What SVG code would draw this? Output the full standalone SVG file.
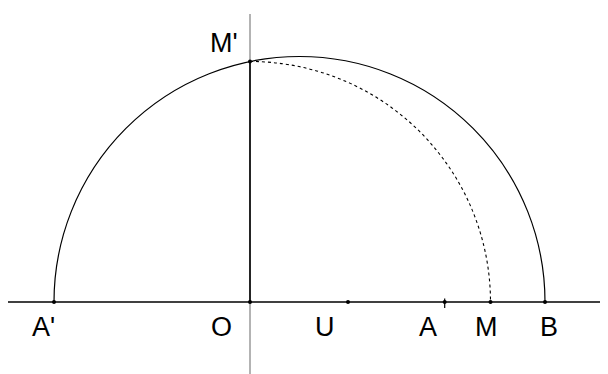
<svg xmlns="http://www.w3.org/2000/svg" width="608" height="374" viewBox="0 0 608 374">
<style>
.lbl{font-family:"Liberation Sans",Arial,sans-serif;font-size:27px;fill:#000}
.pt{fill:#000}
</style>
<rect width="608" height="374" fill="#fff"/>
<g id="connectors" fill="none">
<line x1="250" y1="14" x2="250" y2="374" stroke="#808080" stroke-width="1.2"/>
<line x1="8" y1="302" x2="600" y2="302" stroke="#000" stroke-width="1.3"/>
<line x1="250" y1="61.5" x2="250" y2="302" stroke="#000" stroke-width="1.6"/>
<path d="M54 302 A245.5 245.5 0 0 1 545 302" stroke="#000" stroke-width="1.2"/>
<path d="M250 61.5 A240.5 240.5 0 0 1 490.5 302" stroke="#000" stroke-width="1.1" stroke-dasharray="3 3"/>
<line x1="444.7" y1="298.5" x2="444.7" y2="308" stroke="#000" stroke-width="1.2"/>
</g>
<g id="A1"><circle class="pt" cx="54" cy="302" r="2"/><text class="lbl" x="32" y="336">A'</text></g>
<g id="O"><circle class="pt" cx="250" cy="302" r="2"/><text class="lbl" x="211" y="336">O</text></g>
<g id="U"><circle class="pt" cx="348" cy="302" r="2"/><text class="lbl" x="315" y="336">U</text></g>
<g id="A"><circle class="pt" cx="444.7" cy="302" r="2"/><text class="lbl" x="419" y="336">A</text></g>
<g id="M"><circle class="pt" cx="490.5" cy="302" r="2"/><text class="lbl" x="475" y="336">M</text></g>
<g id="B"><circle class="pt" cx="545" cy="302" r="2"/><text class="lbl" x="540" y="336">B</text></g>
<g id="M1"><circle class="pt" cx="250" cy="61.5" r="2"/><text class="lbl" x="210" y="52">M'</text></g>
</svg>
